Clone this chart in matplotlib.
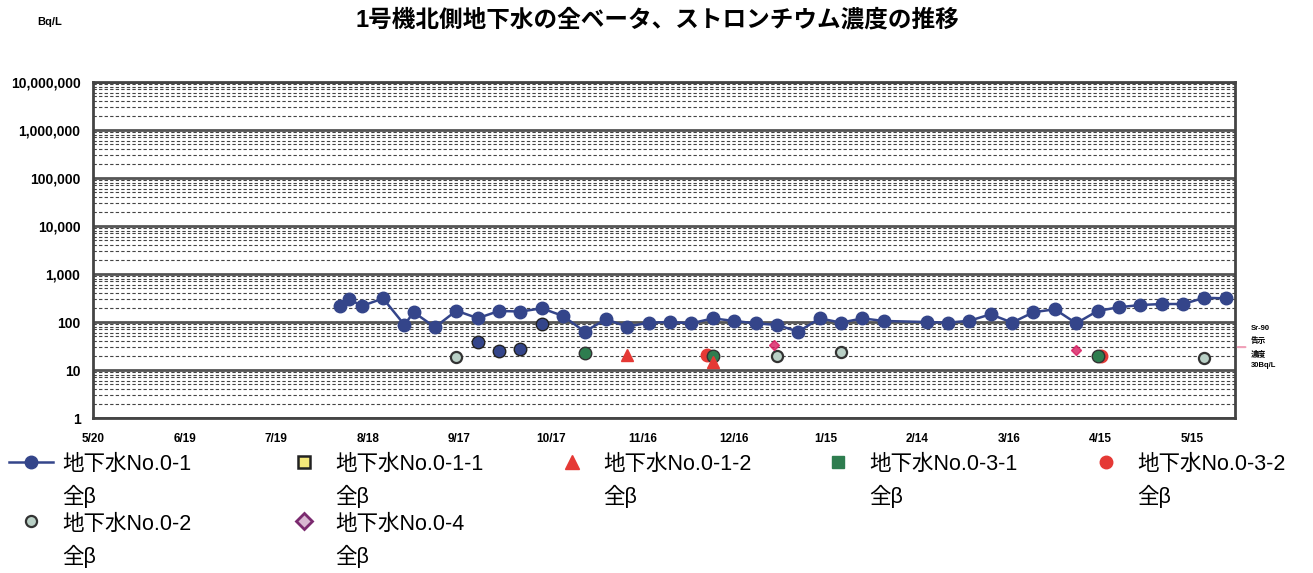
import pandas as pd
import matplotlib.pyplot as plt
from matplotlib.lines import Line2D
from matplotlib.ticker import LogLocator, FuncFormatter, NullFormatter

plt.rcParams['font.family'] = ['Liberation Sans', 'Noto Sans CJK JP', 'DejaVu Sans']

# 地下水No.0-1 全β (weekly)
no01_dates = ["2013-08-09", "2013-08-12", "2013-08-16", "2013-08-23", "2013-08-30",
              "2013-09-02", "2013-09-09", "2013-09-16", "2013-09-23", "2013-09-30",
              "2013-10-07", "2013-10-14", "2013-10-21", "2013-10-28", "2013-11-04",
              "2013-11-11", "2013-11-18", "2013-11-25", "2013-12-02", "2013-12-09",
              "2013-12-16", "2013-12-23", "2013-12-30", "2014-01-06", "2014-01-13",
              "2014-01-20", "2014-01-27", "2014-02-03", "2014-02-17", "2014-02-24",
              "2014-03-03", "2014-03-10", "2014-03-17", "2014-03-24", "2014-03-31",
              "2014-04-07", "2014-04-14", "2014-04-21", "2014-04-28", "2014-05-05",
              "2014-05-12", "2014-05-19", "2014-05-26"]
no01_values = [215, 300, 215, 310, 87, 160, 78, 172, 120, 170,
               165, 193, 133, 63, 114, 80, 97, 100, 94, 119,
               105, 94, 87, 63, 119, 97, 119, 105, 100, 97,
               106, 145, 97, 160, 184, 94, 170, 203, 226, 237,
               237, 320, 310]

# extra No.0-1 points not joined by the line
no01_extra_dates = ["2013-09-23", "2013-09-30", "2013-10-07", "2013-10-14"]
no01_extra_values = [39, 25, 28, 91]

no02_dates = ["2013-09-16", "2013-12-30", "2014-01-20", "2014-05-19"]
no02_values = [19, 19.5, 24, 17.5]

no012_dates = ["2013-11-11", "2013-12-09"]
no012_values = [21, 15]

no031_dates = ["2013-10-28", "2013-12-09", "2014-04-14"]
no031_values = [23, 19.5, 19.5]

no032_dates = ["2013-12-07", "2014-04-15"]
no032_values = [20.5, 19.5]

no04_dates = ["2013-12-29", "2014-04-07"]
no04_values = [33, 26]

tick_labels = ["5/20", "6/19", "7/19", "8/18", "9/17", "10/17", "11/16",
               "12/16", "1/15", "2/14", "3/16", "4/15", "5/15"]

blue = '#34458a'
fig = plt.figure(figsize=(13.13, 5.73), dpi=100)
ax = fig.add_axes([93 / 1313, 1 - 418 / 573, (1235 - 93) / 1313, (418 - 82) / 573])

ax.plot(pd.to_datetime(no01_dates), no01_values, '-o', color=blue, lw=1.8,
        markersize=9, zorder=5)
ax.plot(pd.to_datetime(no01_extra_dates), no01_extra_values, 'o', color=blue,
        markeredgecolor='#222', markersize=9, zorder=5)
ax.plot(pd.to_datetime(no02_dates), no02_values, 'o', color='#b9d0c6',
        markeredgecolor='#333', markeredgewidth=1.6, markersize=8, zorder=5)
ax.plot(pd.to_datetime(no032_dates), no032_values, 'o', color='#e53935',
        markersize=9, zorder=4)
ax.plot(pd.to_datetime(no031_dates), no031_values, 'o', color='#2e7d4f',
        markeredgecolor='#333', markersize=9, zorder=5)
ax.plot(pd.to_datetime(no012_dates), no012_values, '^', color='#e53935',
        markersize=9, zorder=6)
ax.plot(pd.to_datetime(no04_dates), no04_values, 'D', color='#d81b60',
        markersize=5, alpha=0.8, zorder=5)

ax.set_yscale('log')
ax.set_ylim(1, 1e7)
ax.set_xlim(pd.Timestamp("2013-05-20"), pd.Timestamp("2014-05-29"))
ax.yaxis.set_major_locator(LogLocator(base=10, numticks=10))
ax.yaxis.set_minor_locator(LogLocator(base=10, subs=range(2, 10), numticks=20))
ax.yaxis.set_major_formatter(FuncFormatter(lambda v, p: f"{int(round(v)):,}"))
ax.yaxis.set_minor_formatter(NullFormatter())
ax.set_xticks(pd.date_range("2013-05-20", periods=len(tick_labels), freq="30D"))
ax.set_xticklabels(tick_labels)
ax.tick_params(axis='both', which='both', length=0)
ax.tick_params(axis='y', pad=9, labelsize=10)
ax.tick_params(axis='x', pad=11, labelsize=8.5)
for lab in ax.get_xticklabels() + ax.get_yticklabels():
    lab.set_fontweight('bold')

ax.grid(which='major', axis='y', color='#555555', lw=2, ls='-')
ax.grid(which='minor', axis='y', color='#444444', lw=0.8, ls=(0, (3, 2)))
for s in ax.spines.values():
    s.set_linewidth(2)
    s.set_color('#444444')

ax.annotate("Sr-90\n告示\n濃度\n30Bq/L", xy=(1.0, 30), xytext=(1.014, 30),
            xycoords=('axes fraction', 'data'), textcoords=('axes fraction', 'data'),
            fontsize=5.5, fontweight='bold', va='center', ha='left', linespacing=1.8,
            arrowprops=dict(arrowstyle='-', color='#f0a0b8', lw=1.5))

fig.text(657 / 1313, 1 - 20 / 573, "1号機北側地下水の全ベータ、ストロンチウム濃度の推移",
         fontsize=17, fontweight='bold', ha='center', va='center')
fig.text(50 / 1313, 1 - 22 / 573, "Bq/L", fontsize=8, fontweight='bold',
         ha='center', va='center')

# legend, five columns
h_no01 = Line2D([], [], color=blue, marker='o', lw=1.8, markersize=9)
h_no011 = Line2D([], [], color='#f5e97a', marker='s', lw=0, markersize=9,
                 markeredgecolor='#222', markeredgewidth=1.8)
h_no012 = Line2D([], [], color='#e53935', marker='^', lw=0, markersize=10)
h_no031 = Line2D([], [], color='#2e7d4f', marker='s', lw=0, markersize=9)
h_no032 = Line2D([], [], color='#e53935', marker='o', lw=0, markersize=9)
h_no02 = Line2D([], [], color='#b9d0c6', marker='o', lw=0, markersize=8,
                markeredgecolor='#333', markeredgewidth=1.6)
h_no04 = Line2D([], [], color='#d9b8d2', marker='D', lw=0, markersize=8,
                markeredgecolor='#7b2a6f', markeredgewidth=2)

columns = [
    ([h_no01, h_no02], ["地下水No.0-1\n全β", "地下水No.0-2\n全β"], 9),
    ([h_no011, h_no04], ["地下水No.0-1-1\n全β", "地下水No.0-4\n全β"], 282),
    ([h_no012], ["地下水No.0-1-2\n全β"], 550),
    ([h_no031], ["地下水No.0-3-1\n全β"], 816),
    ([h_no032], ["地下水No.0-3-2\n全β"], 1084),
]
for handles, labels, xleft in columns:
    leg = fig.legend(handles, labels, loc='upper left',
                     bbox_to_anchor=(xleft / 1313, 1 - 454 / 573),
                     frameon=False, fontsize=15.5, handlelength=2.05,
                     handletextpad=0.42, labelspacing=0.25, borderpad=0,
                     borderaxespad=0)
    for t in leg.get_texts():
        t.set_linespacing(1.55)
    for col in leg._legend_handle_box.get_children():
        for row in col.get_children():
            row.align = "top"

fig.savefig("out.png", dpi=100, facecolor='white')
